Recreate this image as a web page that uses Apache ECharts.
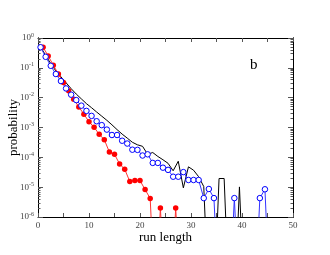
<!DOCTYPE html>
<html>
<head>
<meta charset="utf-8">
<script src="https://cdn.jsdelivr.net/npm/echarts@6/dist/echarts.min.js"></script>
<style>html,body{margin:0;padding:0;background:#fff;}#c{width:330px;height:255px;}</style>
</head>
<body>
<div id="c"></div>
<script>
// ---- data (probabilities; 0 = no counts) ----
const redX = [1,2,3,4,5,6,7,8,9,10,11,12,13,14,15,16,17,18,19,20,21,22,23,24,25,26,27,28];
const redY = [0.49,0.25,0.123,0.062,0.032,0.017,0.0089,0.0049,0.0028,0.00155,0.00102,5.9e-4,3.9e-4,1.5e-4,1.26e-4,6.0e-5,4.0e-5,1.55e-5,1.66e-5,1.66e-5,8.3e-6,4.2e-6,0,2e-6,0,0,2e-6,0];

const blueX = [0.5,1.5,2.5,3.5,4.5,5.5,6.5,7.5,8.5,9.5,10.5,11.5,12.5,13.5,14.5,15.5,16.5,17.5,18.5,19.5,20.5,21.5,22.5,23.5,24.5,25.5,26.5,27.5,28.5,29.5,30.5,31.5,32.5,33.5,34.5,35.5,36.5,37.5,38.5,39.5,40.5,41.5,42.5,43.5,44.5,45.5];
const blueY = [0.49,0.234,0.117,0.062,0.036,0.0204,0.0126,0.0083,0.0054,0.0036,0.00245,0.00162,0.0012,8.5e-4,5.6e-4,5.6e-4,3.6e-4,2.9e-4,1.8e-4,1.78e-4,1.15e-4,1.26e-4,6.5e-5,6.5e-5,4.5e-5,3.8e-5,2.24e-5,2.24e-5,3.2e-5,1.74e-5,1.74e-5,1.74e-5,4.3e-6,8.7e-6,4.3e-6,0,0,0,4.3e-6,0,0,0,0,4.3e-6,8.5e-6,0];

const blackX = blueX;
const blackY = [0.51,0.263,0.138,0.079,0.05,0.0316,0.02,0.0132,0.0091,0.0063,0.0046,0.0033,0.0024,0.00174,0.00123,8.5e-4,6.0e-4,4.4e-4,3.2e-4,2.63e-4,2.34e-4,1.26e-4,1.45e-4,1.07e-4,8.3e-5,6.3e-5,3.55e-5,7.4e-5,9.5e-6,4.8e-5,3.7e-5,2.24e-5,1.05e-5,0,0,1.95e-5,1.95e-5,0,0,1.02e-5,0,0,0,0,0,0];

const yMajor = [1e-6,1e-5,1e-4,1e-3,1e-2,1e-1,1];
const xLabels = [0,10,20,30,40,50];
const panelLabel = 'b';
// -------------------------------------------

const FLOOR = 1e-9; // log axis cannot show 0; such points fall below the axis and are clipped
const pairs = (xs, ys) => xs.map((x, i) => [x, ys[i] > 0 ? ys[i] : FLOOR]);
const yMinor = [];
for (let d = -6; d < 0; d++) for (let m = 2; m <= 9; m++) yMinor.push(+(m * Math.pow(10, d)).toPrecision(3));

const serif = 'Liberation Serif';
const lblColor = '#444';
const logLabel = v => '{b|10}{s|' + Math.round(Math.log10(v)) + '}';

function yAx(pos, ticks, len, withLabel) {
  return {
    type: 'log', logBase: 10, position: pos, offset: 0, min: 1e-6, max: 1,
    axisLine: { show: true, lineStyle: { color: '#000', width: 1 } },
    axisTick: { show: true, inside: true, length: len, customValues: ticks, lineStyle: { color: '#555' } },
    axisLabel: withLabel ? {
      show: true, customValues: yMajor, margin: 4, formatter: logLabel,
      rich: { b: { fontFamily: serif, fontSize: 9, color: lblColor }, s: { fontFamily: serif, fontSize: 6, color: lblColor, padding: [0, 0, 6, 0] } }
    } : { show: false },
    splitLine: { show: false }, minorTick: { show: false }
  };
}

const chart = echarts.init(document.getElementById('c'), null, { renderer: 'canvas' });
const yAxes = [yAx('left', yMajor, 5, true), yAx('left', yMinor, 2.5, false), yAx('right', yMajor, 5, false), yAx('right', yMinor, 2.5, false)];
yAxes[0].name = 'probability';
yAxes[0].nameLocation = 'middle';
yAxes[0].nameGap = 18;
yAxes[0].nameMoveOverlap = false;
yAxes[0].nameTextStyle = { fontFamily: serif, fontSize: 13, color: '#000' };

chart.setOption({
  animation: false,
  backgroundColor: '#fff',
  title: { text: panelLabel, left: 245, top: 53, textStyle: { fontFamily: serif, fontSize: 15, fontWeight: 'normal', color: '#000' } },
  grid: { left: 38, right: 37, top: 38, bottom: 38, containLabel: false, outerBoundsMode: 'none' },
  xAxis: [
    { type: 'value', position: 'bottom', min: 0, max: 50, interval: 5,
      axisLine: { show: true, lineStyle: { color: '#000', width: 1 } },
      axisTick: { show: true, inside: true, length: 4, lineStyle: { color: '#555' } },
      axisLabel: { show: true, margin: 4, fontFamily: serif, fontSize: 9, color: lblColor, formatter: v => xLabels.indexOf(v) >= 0 ? String(v) : '' },
      splitLine: { show: false },
      name: 'run length', nameLocation: 'middle', nameGap: 14, nameMoveOverlap: false, nameTextStyle: { fontFamily: serif, fontSize: 13, color: '#000' } },
    { type: 'value', position: 'top', min: 0, max: 50, interval: 5,
      axisLine: { show: true, lineStyle: { color: '#000', width: 1 } },
      axisTick: { show: true, inside: true, length: 4, lineStyle: { color: '#555' } },
      axisLabel: { show: false }, splitLine: { show: false } }
  ],
  yAxis: yAxes,
  series: [
    { type: 'line', data: pairs(blackX, blackY), xAxisIndex: 0, yAxisIndex: 0, clip: true,
      showSymbol: false, symbol: 'none', lineStyle: { color: '#000', width: 1 } },
    { type: 'line', data: pairs(redX, redY), xAxisIndex: 0, yAxisIndex: 0, clip: true,
      symbol: 'circle', symbolSize: 5.5, itemStyle: { color: '#ff0000' }, lineStyle: { color: '#ff3333', width: 1 } },
    { type: 'line', data: pairs(blueX, blueY), xAxisIndex: 0, yAxisIndex: 0, clip: true,
      symbol: 'circle', symbolSize: 5.5, itemStyle: { color: '#ffffff', borderColor: '#0000ff', borderWidth: 1 }, lineStyle: { color: '#3333ff', width: 1 } }
  ]
});
</script>
</body>
</html>
